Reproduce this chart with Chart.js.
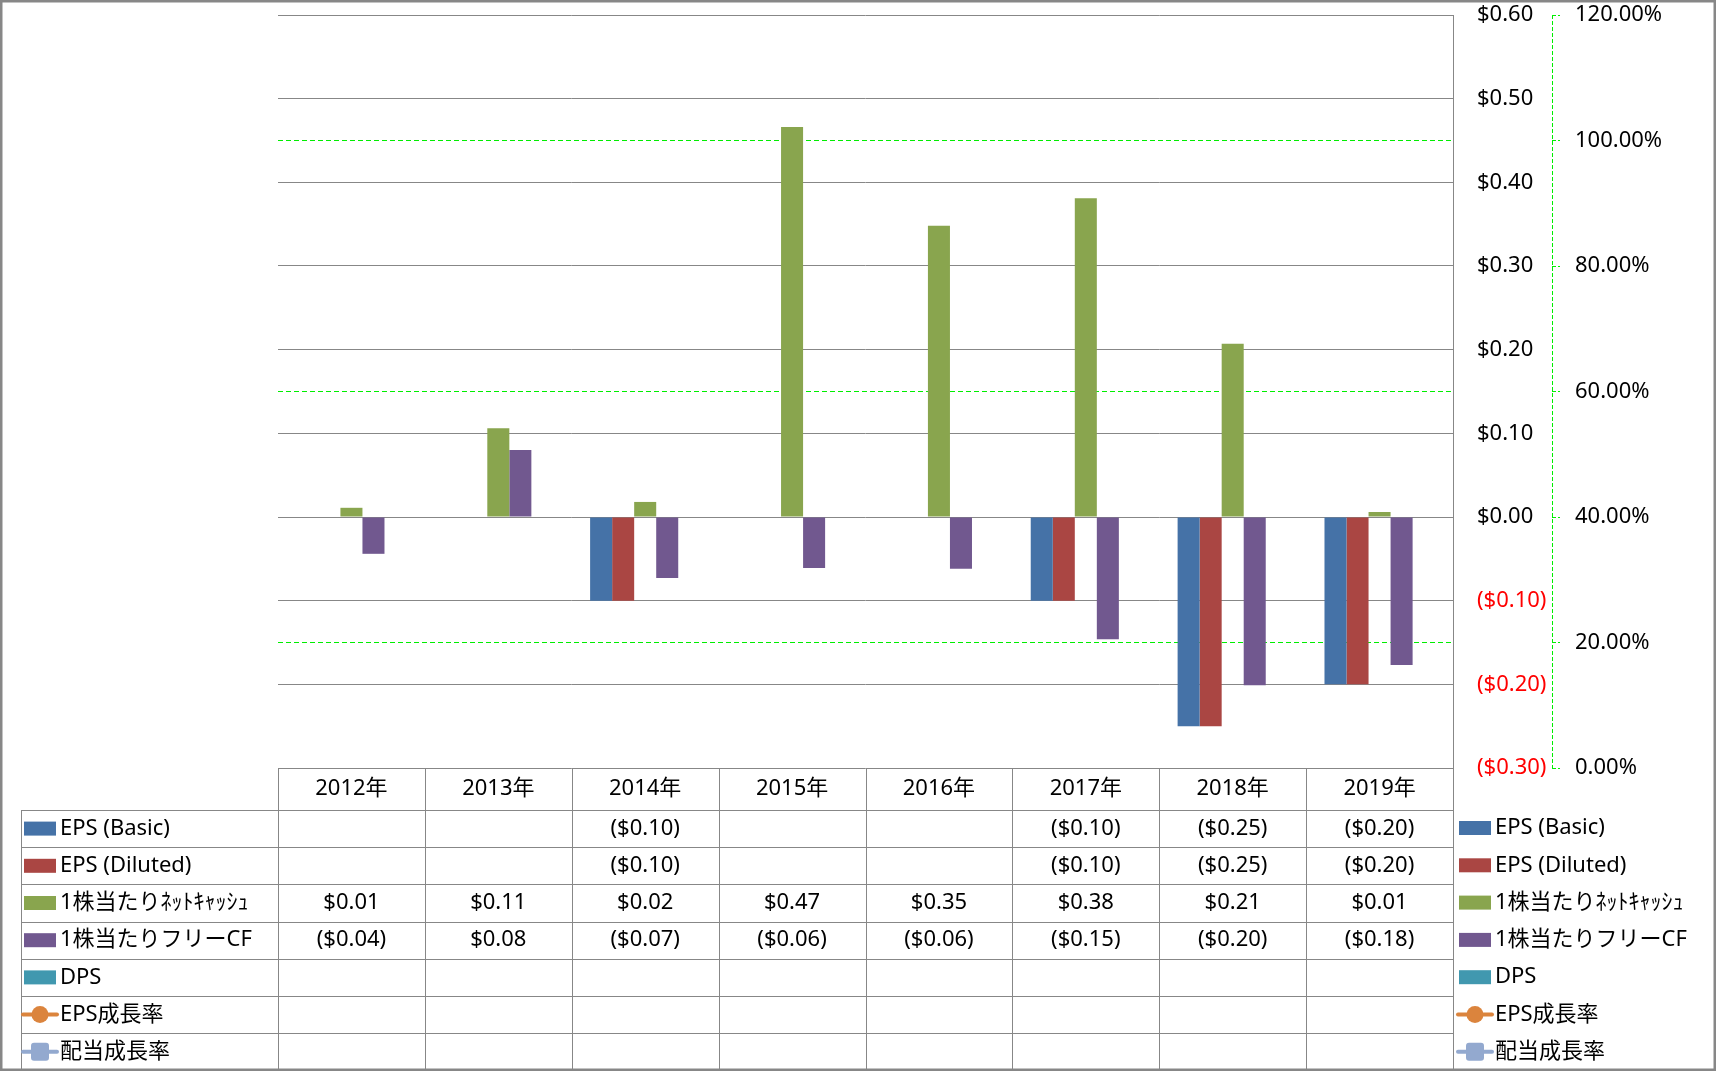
<!DOCTYPE html>
<html>
<head>
<meta charset="utf-8">
<script src="https://cdn.jsdelivr.net/npm/chart.js@4.4.1/dist/chart.umd.min.js"></script>
<style>
  html, body { margin: 0; padding: 0; background: #fff; }
  canvas { display: block; }
</style>
</head>
<body>
<canvas id="epsChart" width="1716" height="1071"></canvas>
<script>
// データ (表の値は小数2桁で表示)
var years = ['2012年', '2013年', '2014年', '2015年', '2016年', '2017年', '2018年', '2019年'];
var epsBasic = [null, null, -0.10, null, null, -0.10, -0.25, -0.20];
var epsDiluted = [null, null, -0.10, null, null, -0.10, -0.25, -0.20];
var netCashPerShare = [0.011, 0.106, 0.018, 0.466, 0.348, 0.381, 0.207, 0.006];
var freeCfPerShare = [-0.044, 0.080, -0.073, -0.061, -0.062, -0.146, -0.201, -0.177];
var dps = [null, null, null, null, null, null, null, null];
var epsGrowth = [null, null, null, null, null, null, null, null];
var dividendGrowth = [null, null, null, null, null, null, null, null];

// 軸の範囲
var yMin = -0.3, yMax = 0.6, yStep = 0.1;
var pctMin = 0, pctMax = 1.2, pctStep = 0.2;

var FONT = '"Noto Sans", "Noto Sans CJK JP", sans-serif';
var GRID = '#878787';
var GREEN = '#00ee00';

function money(v) {
    if (v === null || v === undefined) return '';
    if (v < -1e-9) return '($' + Math.abs(v).toFixed(2) + ')';
    return '$' + Math.abs(v).toFixed(2);
}

function drawKey(ctx, ds, x, y) {
    if (ds.type === 'line') {
        ctx.strokeStyle = ds.borderColor;
        ctx.lineWidth = 4;
        ctx.lineCap = 'round';
        ctx.beginPath();
        ctx.moveTo(x, y);
        ctx.lineTo(x + 34, y);
        ctx.stroke();
        ctx.fillStyle = ds.backgroundColor;
        if (ds.pointStyle === 'circle') {
            ctx.beginPath();
            ctx.arc(x + 17, y, 8.5, 0, Math.PI * 2);
            ctx.fill();
        } else {
            ctx.beginPath();
            ctx.roundRect(x + 8, y - 9, 18, 18, 3);
            ctx.fill();
        }
    } else {
        ctx.fillStyle = ds.backgroundColor;
        ctx.fillRect(x + 1, y - 7, 32, 14);
    }
}

// 表と右側の凡例
var tablePlugin = {
    id: 'dataTable',
    afterDraw: function (chart) {
        var ctx = chart.ctx;
        var area = chart.chartArea;
        var xs = chart.scales.x;
        var y2 = chart.scales.y2;
        var colW = xs.getPixelForValue(1) - xs.getPixelForValue(0);
        var tableTop = area.bottom;
        var headerH = 42;
        var rowH = 37.2;
        var sets = chart.data.datasets;
        var tableBottom = tableTop + headerH + rowH * sets.length;
        var labelLeft = 21;

        ctx.save();
        // 第2軸の破線
        ctx.strokeStyle = GREEN;
        ctx.lineWidth = 1;
        ctx.setLineDash([4, 2]);
        ctx.beginPath();
        ctx.moveTo(Math.round(y2.left) + 0.5, area.top);
        ctx.lineTo(Math.round(y2.left) + 0.5, area.bottom);
        ctx.stroke();
        ctx.setLineDash([]);

        // 罫線
        ctx.strokeStyle = GRID;
        ctx.lineWidth = 1;
        ctx.beginPath();
        for (var i = 0; i <= years.length; i++) {
            var bx = Math.round(xs.getPixelForValue(i) - colW / 2) + 0.5;
            ctx.moveTo(bx, tableTop);
            ctx.lineTo(bx, tableBottom);
        }
        ctx.moveTo(labelLeft + 0.5, tableTop + headerH);
        ctx.lineTo(labelLeft + 0.5, tableBottom);
        for (var r = 0; r <= sets.length; r++) {
            var ly = Math.round(tableTop + headerH + rowH * r) + 0.5;
            ctx.moveTo(labelLeft, ly);
            ctx.lineTo(area.right, ly);
        }
        ctx.stroke();

        // 文字
        ctx.font = '22px ' + FONT;
        ctx.fillStyle = '#000';
        ctx.textBaseline = 'middle';
        ctx.textAlign = 'center';
        years.forEach(function (yr, i) {
            ctx.fillText(yr, xs.getPixelForValue(i), tableTop + headerH / 2);
        });
        sets.forEach(function (ds, r) {
            var cy = tableTop + headerH + rowH * r + rowH / 2;
            ctx.textAlign = 'center';
            ctx.fillStyle = '#000';
            ds.data.forEach(function (v, i) {
                if (ds.yAxisID === 'y2') return;
                ctx.fillText(money(v), xs.getPixelForValue(i), cy);
            });
            drawKey(ctx, ds, 23, cy);
            ctx.fillStyle = '#000';
            ctx.textAlign = 'left';
            ctx.fillText(ds.label, 60, cy);

            // 右の凡例
            var ry = 828 + r * 37.3;
            drawKey(ctx, ds, 1458, ry);
            ctx.fillStyle = '#000';
            ctx.textAlign = 'left';
            ctx.fillText(ds.label, 1495, ry);
        });

        // 外枠
        ctx.strokeStyle = GRID;
        ctx.strokeRect(0.5, 0.5, chart.width - 1, chart.height - 1);
        ctx.restore();
    }
};

function fixWidth(w) {
    return function (s) {
        s.width = w;
        s.paddingTop = 0;
        s.paddingBottom = 0;
    };
}

// 主軸の目盛線と重なる位置では緑の線を引かない
function pctGridColor(c) {
    var v = c.tick ? c.tick.value : 0;
    var onPrimary = Math.abs(Math.round(v / 0.4) * 0.4 - v) < 1e-6;
    return onPrimary ? 'rgba(0,0,0,0)' : GREEN;
}

var ctx = document.getElementById('epsChart').getContext('2d');
var chart = new Chart(ctx, {
    type: 'bar',
    data: {
        labels: years,
        datasets: [
            { label: 'EPS (Basic)', data: epsBasic, backgroundColor: '#4572A7', yAxisID: 'y' },
            { label: 'EPS (Diluted)', data: epsDiluted, backgroundColor: '#AA4643', yAxisID: 'y' },
            { label: '1株当たりﾈｯﾄｷｬｯｼｭ', data: netCashPerShare, backgroundColor: '#89A54E', yAxisID: 'y' },
            { label: '1株当たりフリーCF', data: freeCfPerShare, backgroundColor: '#71588F', yAxisID: 'y' },
            { label: 'DPS', data: dps, backgroundColor: '#4198AF', yAxisID: 'y' },
            { type: 'line', label: 'EPS成長率', data: epsGrowth, borderColor: '#DB843D', backgroundColor: '#DB843D', pointStyle: 'circle', yAxisID: 'y2' },
            { type: 'line', label: '配当成長率', data: dividendGrowth, borderColor: '#93A9CF', backgroundColor: '#93A9CF', pointStyle: 'rect', yAxisID: 'y2' }
        ]
    },
    options: {
        responsive: false,
        animation: false,
        categoryPercentage: 0.75,
        barPercentage: 1.0,
        layout: { padding: { left: 278, top: 15, right: 0, bottom: 303 } },
        plugins: {
            legend: { display: false },
            tooltip: { enabled: false }
        },
        scales: {
            x: { display: false, offset: true },
            y: {
                position: 'right',
                min: yMin,
                max: yMax,
                afterFit: fixWidth(99),
                grid: { color: GRID, drawTicks: false, z: -1 },
                border: { display: true, color: GRID },
                ticks: {
                    stepSize: yStep,
                    padding: 24,
                    font: { family: FONT, size: 22 },
                    color: function (c) { return c.tick.value < -1e-9 ? '#ff0000' : '#000'; },
                    callback: function (v) { return money(v); }
                }
            },
            y2: {
                position: 'right',
                min: pctMin,
                max: pctMax,
                afterFit: fixWidth(164),
                grid: { color: pctGridColor, drawTicks: true, tickLength: 8, tickColor: GREEN, tickBorderDash: [4, 2], z: -2 },
                border: { display: false, dash: [5, 3] },
                ticks: {
                    stepSize: pctStep,
                    padding: 15,
                    font: { family: FONT, size: 22 },
                    color: '#000',
                    callback: function (v) { return (v * 100).toFixed(2) + '%'; }
                }
            }
        }
    },
    plugins: [tablePlugin]
});
</script>
</body>
</html>
